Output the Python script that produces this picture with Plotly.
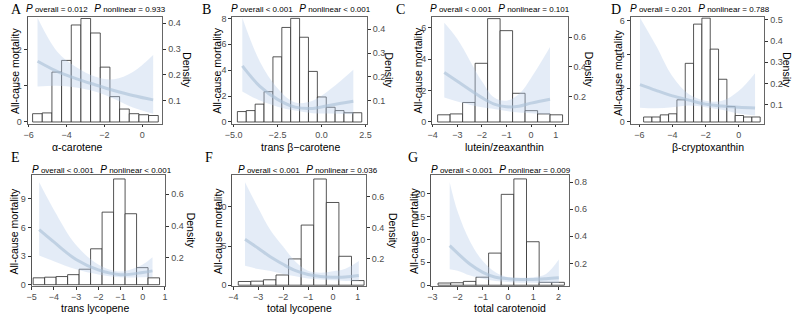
import plotly.graph_objects as go

# ---------------- data ----------------
panel_letters = ["A", "B", "C", "D", "E", "F", "G"]
x_titles = ["α-carotene", "trans β−carotene", "lutein/zeaxanthin", "β-cryptoxanthin",
            "trans lycopene", "total lycopene", "total carotenoid"]
p_overall = ["= 0.012", "< 0.001", "< 0.001", "= 0.201", "< 0.001", "< 0.001", "< 0.001"]
p_nonlinear = ["= 0.933", "< 0.001", "= 0.101", "= 0.788", "< 0.001", "= 0.036", "= 0.009"]

# histogram (density) per panel: first bin edge, bin width, densities
A_bin_start, A_bin_width = -5.79, 0.51
A_density = [0.050, 0.053, 0.211, 0.256, 0.393, 0.418, 0.362, 0.230, 0.116, 0.068, 0.050, 0.046, 0.043]
B_bin_start, B_bin_width = -4.78, 0.505
B_density = [0.055, 0.059, 0.086, 0.138, 0.284, 0.407, 0.445, 0.366, 0.223, 0.116, 0.073, 0.059, 0.050, 0.050]
C_bin_start, C_bin_width = -3.80, 0.508
C_density = [0.077, 0.083, 0.160, 0.424, 0.725, 0.644, 0.222, 0.105, 0.083, 0.077]
D_bin_start, D_bin_width = -5.74, 0.503
D_density = [0.042, 0.042, 0.052, 0.057, 0.123, 0.295, 0.480, 0.508, 0.362, 0.220, 0.091, 0.049, 0.042, 0.042]
E_bin_start, E_bin_width = -4.93, 0.517
E_density = [0.075, 0.079, 0.083, 0.095, 0.129, 0.257, 0.487, 0.695, 0.477, 0.139, 0.075]
F_bin_start, F_bin_width = -3.80, 0.505
F_density = [0.052, 0.054, 0.063, 0.094, 0.198, 0.417, 0.715, 0.563, 0.215, 0.058]
G_bin_start, G_bin_width = -2.77, 0.50
G_density = [0.055, 0.057, 0.067, 0.098, 0.276, 0.710, 0.824, 0.360, 0.060, 0.060]

# restricted cubic spline fit (all-cause mortality) with 95% CI
A_x = [-5.53, -4.5, -3.5, -2.5, -1.5, -0.5, 0.57]
A_fit = [1.68, 1.40, 1.20, 1.03, 0.87, 0.73, 0.61]
A_upper = [2.88, 1.95, 1.52, 1.26, 1.18, 1.38, 1.85]
A_lower = [0.98, 1.00, 0.95, 0.84, 0.64, 0.40, 0.23]

B_x = [-4.5, -3.5, -2.5, -1.5, -0.5, 0.5, 1.81]
B_fit = [4.33, 2.75, 1.75, 1.15, 1.05, 1.30, 1.60]
B_upper = [8.05, 4.65, 2.60, 1.50, 1.64, 2.52, 4.03]
B_lower = [2.36, 1.65, 1.18, 0.88, 0.68, 0.65, 0.60]

C_x = [-3.53, -3.0, -2.0, -1.5, -1.0, -0.5, 0.0, 0.77]
C_fit = [3.15, 2.59, 1.55, 1.14, 0.97, 1.00, 1.20, 1.45]
C_upper = [6.31, 5.28, 2.59, 1.55, 1.35, 1.76, 2.80, 4.76]
C_lower = [1.55, 1.30, 0.93, 0.82, 0.70, 0.60, 0.55, 0.48]

D_x = [-5.96, -5.0, -4.0, -3.0, -2.0, -1.0, 0.0, 0.99]
D_fit = [2.22, 1.88, 1.55, 1.30, 1.06, 0.95, 0.87, 0.83]
D_upper = [6.19, 4.55, 2.71, 1.64, 1.26, 1.26, 1.84, 2.90]
D_lower = [0.85, 0.82, 0.88, 0.98, 0.88, 0.72, 0.50, 0.38]

E_x = [-4.66, -4.0, -3.0, -2.0, -1.0, 0.0, 0.44]
E_fit = [5.78, 4.49, 2.64, 1.55, 1.05, 1.28, 1.45]
E_upper = [10.74, 7.87, 4.16, 2.13, 1.39, 2.13, 2.87]
E_lower = [3.07, 2.47, 1.62, 1.08, 0.78, 0.78, 0.80]

F_x = [-3.53, -3.0, -2.5, -2.0, -1.5, -1.0, -0.5, 0.0, 0.5, 1.04]
F_fit = [5.88, 4.73, 3.60, 2.67, 1.85, 1.36, 1.12, 1.03, 1.05, 1.23]
F_upper = [13.17, 9.88, 7.00, 4.94, 3.00, 1.85, 1.60, 1.77, 2.10, 3.09]
F_lower = [2.47, 2.06, 1.80, 1.44, 1.13, 0.85, 0.72, 0.62, 0.55, 0.60]

G_x = [-2.31, -2.0, -1.5, -1.0, -0.5, 0.0, 0.5, 1.0, 1.5, 2.01]
G_fit = [8.63, 7.00, 4.56, 2.81, 1.75, 1.40, 1.26, 1.26, 1.40, 1.61]
G_upper = [22.46, 16.10, 9.47, 5.26, 2.81, 1.75, 1.61, 1.75, 2.46, 5.60]
G_lower = [3.50, 3.16, 2.10, 1.40, 0.91, 0.70, 0.56, 0.56, 0.49, 0.49]

# tick labels
x_ticks = [[-6, -4, -2, 0], [-5.0, -2.5, 0.0, 2.5], [-4, -3, -2, -1, 0, 1], [-6, -4, -2, 0],
           [-5, -4, -3, -2, -1, 0, 1], [-4, -3, -2, -1, 0, 1], [-3, -2, -1, 0, 1, 2]]
mort_ticks = [[0, 1, 2], [0, 2, 4, 6, 8], [0, 2, 4, 6], [0, 2, 4, 6],
              [0, 3, 6, 9], [0, 5, 10], [0, 5, 10, 15, 20]]
dens_ticks = [[0.1, 0.2, 0.3, 0.4], [0.1, 0.2, 0.3, 0.4], [0.2, 0.4, 0.6], [0.1, 0.2, 0.3, 0.4, 0.5],
              [0.2, 0.4, 0.6], [0.2, 0.4, 0.6], [0.2, 0.4, 0.6, 0.8]]

hist_data = [(A_bin_start, A_bin_width, A_density), (B_bin_start, B_bin_width, B_density),
             (C_bin_start, C_bin_width, C_density), (D_bin_start, D_bin_width, D_density),
             (E_bin_start, E_bin_width, E_density), (F_bin_start, F_bin_width, F_density),
             (G_bin_start, G_bin_width, G_density)]
curve_data = [(A_x, A_fit, A_upper, A_lower), (B_x, B_fit, B_upper, B_lower),
              (C_x, C_fit, C_upper, C_lower), (D_x, D_fit, D_upper, D_lower),
              (E_x, E_fit, E_upper, E_lower), (F_x, F_fit, F_upper, F_lower),
              (G_x, G_fit, G_upper, G_lower)]

# ---------------- layout (pixels) ----------------
W, H = 798, 318
boxes = [(20, 157, 14, 123.5), (228, 365, 14, 123.5), (431, 569, 14, 123.5), (633, 769, 14, 123.5),
         (24, 160, 176, 289.5), (228, 364, 176, 289.5), (430, 570, 176, 289.5)]
x_ranges = [(-6.05, 1.06), (-5.07, 2.59), (-4.03, 1.49), (-6.52, 1.56),
            (-5.0, 1.02), (-4.04, 1.33), (-3.05, 2.40)]
mort_ranges = [(-0.05, 2.91), (-0.138, 8.13), (-0.114, 6.69), (-0.106, 6.25),
               (-0.15, 11.49), (-0.12, 14.07), (-0.2, 24.0)]
dens_ranges = [(0.011, 0.425), (0.0038, 0.452), (0.0165, 0.738), (0.01, 0.515),
               (0.023, 0.719), (0.022, 0.74), (0.032, 0.852)]
letter_pos = [(2, 6.5), (196, 6.5), (393, 6.5), (612, 6.5), (2, 157.5), (199, 157.5), (406, 157.5)]
sub_pos = [(89.5, 6), (298, 6), (500, 6), (703, 6), (96, 170), (305, 170), (501, 170)]
ytitle_x = [7, 213, 417, 620, 6, 213, 412]
ytitle_shift = [0, 0, 0, 2, 0, 0, 0]
dens_title_x = [182, 387, 590, 792, 186, 392, None]
xtitle_pos = [(71, 147), (297.5, 147), (505, 147), (712, 147), (88, 312), (296, 312), (510, 312)]

FONT = "Liberation Sans, Arial, sans-serif"
TICKFONT = dict(family=FONT, size=9, color="#4d4d4d")
BAND = "rgba(180,203,232,0.36)"
LINE = "rgba(170,192,215,0.62)"


def fx(p):
    return p / W


def fy(p):
    return 1 - p / H


fig = go.Figure()
layout = dict(width=W, height=H, margin=dict(l=0, r=0, t=0, b=0),
              paper_bgcolor="white", plot_bgcolor="white", showlegend=False,
              font=dict(family=FONT, color="black"))
annotations = []

for i in range(7):
    xi = i + 1
    yd = 2 * i + 1      # density (base, right side)
    ym = 2 * i + 2      # mortality (overlay, left side)
    xk = "xaxis" if xi == 1 else f"xaxis{xi}"
    ydk = "yaxis" if yd == 1 else f"yaxis{yd}"
    ymk = f"yaxis{ym}"
    xref = "x" if xi == 1 else f"x{xi}"
    ydref = "y" if yd == 1 else f"y{yd}"
    ymref = f"y{ym}"
    x0, x1, t, b = boxes[i]

    start, width, dens = hist_data[i]
    dlo, dhi = dens_ranges[i]
    mlo, mhi = mort_ranges[i]
    base = dlo + (0 - mlo) / (mhi - mlo) * (dhi - dlo)
    centers = [start + (k + 0.5) * width for k in range(len(dens))]
    fig.add_trace(go.Bar(x=centers, y=[d - base for d in dens], base=base, width=width,
                         marker=dict(color="white", line=dict(color="#2b2b2b", width=0.8)),
                         xaxis=xref, yaxis=ydref, hoverinfo="skip"))

    cx, cfit, cup, clo = curve_data[i]
    fig.add_trace(go.Scatter(x=cx, y=clo, mode="lines", line=dict(width=0, shape="spline"),
                             xaxis=xref, yaxis=ymref, hoverinfo="skip"))
    fig.add_trace(go.Scatter(x=cx, y=cup, mode="lines", line=dict(width=0, shape="spline"),
                             fill="tonexty", fillcolor=BAND,
                             xaxis=xref, yaxis=ymref, hoverinfo="skip"))
    fig.add_trace(go.Scatter(x=cx, y=cfit, mode="lines", line=dict(width=3, color=LINE, shape="spline"),
                             xaxis=xref, yaxis=ymref, hoverinfo="skip"))

    xfmt = ".1f" if i == 1 else "d"
    layout[xk] = dict(domain=[fx(x0), fx(x1)], range=list(x_ranges[i]), anchor=ydref,
                      tickvals=x_ticks[i], tickformat=xfmt, ticks="outside", ticklen=2.5,
                      tickcolor="#333", tickwidth=0.8, tickfont=TICKFONT,
                      showline=True, linecolor="#666", linewidth=1, mirror=True,
                      showgrid=False, zeroline=False, fixedrange=True)
    layout[ydk] = dict(domain=[fy(b), fy(t)], range=[dlo, dhi], anchor=xref, side="right",
                       tickvals=dens_ticks[i], tickformat=".1f", ticks="outside", ticklen=3,
                       tickcolor="#333", tickwidth=0.8, tickfont=TICKFONT,
                       showline=True, linecolor="#666", linewidth=1,
                       showgrid=False, zeroline=False, fixedrange=True)
    layout[ymk] = dict(range=[mlo, mhi], anchor=xref, overlaying=ydref, side="left",
                       tickvals=mort_ticks[i], ticks="outside", ticklen=3,
                       tickcolor="#333", tickwidth=0.8, tickfont=TICKFONT,
                       showline=True, linecolor="#555", linewidth=1,
                       showgrid=False, zeroline=False, fixedrange=True)

    # panel letter
    lx, ly = letter_pos[i]
    annotations.append(dict(text=panel_letters[i], x=fx(lx), y=fy(ly), xref="paper", yref="paper",
                            xanchor="left", yanchor="middle", showarrow=False, borderpad=0,
                            font=dict(family="Liberation Serif, Times New Roman, serif", size=14, color="black")))
    # P values subtitle
    po = p_overall[i].replace("<", "&lt;")
    pn = p_nonlinear[i].replace("<", "&lt;")
    sub = (f"<i>P</i><span style='font-size:8px'> overall {po}\u00a0\u00a0\u00a0</span>"
           f"<i>P</i><span style='font-size:8px'> nonlinear {pn}</span>")
    sx, sy = sub_pos[i]
    annotations.append(dict(text=sub, x=fx(sx), y=fy(sy), xref="paper", yref="paper",
                            xanchor="center", yanchor="middle", showarrow=False,
                            font=dict(family=FONT, size=10, color="black")))
    # y title left
    annotations.append(dict(text="All-cause mortality", x=fx(ytitle_x[i]),
                            y=fy((t + b) / 2 + ytitle_shift[i]),
                            xref="paper", yref="paper", xanchor="center", yanchor="middle",
                            textangle=-90, showarrow=False, borderpad=0,
                            font=dict(family=FONT, size=10.5, color="black")))
    # density title right
    if dens_title_x[i] is not None:
        annotations.append(dict(text="Density", x=fx(dens_title_x[i]), y=fy((t + b) / 2),
                                xref="paper", yref="paper", xanchor="center", yanchor="middle",
                                textangle=90, showarrow=False, font=dict(family=FONT, size=10.5, color="black")))
    # x title
    tx, ty = xtitle_pos[i]
    annotations.append(dict(text=x_titles[i], x=fx(tx), y=fy(ty), xref="paper", yref="paper",
                            xanchor="center", yanchor="middle", showarrow=False,
                            font=dict(family=FONT, size=10.5, color="black")))

layout["annotations"] = annotations
fig.update_layout(**layout)
fig.write_html("out.html", config={"displayModeBar": False},
               post_script="document.body.style.margin='0';document.body.style.overflow='hidden';")
